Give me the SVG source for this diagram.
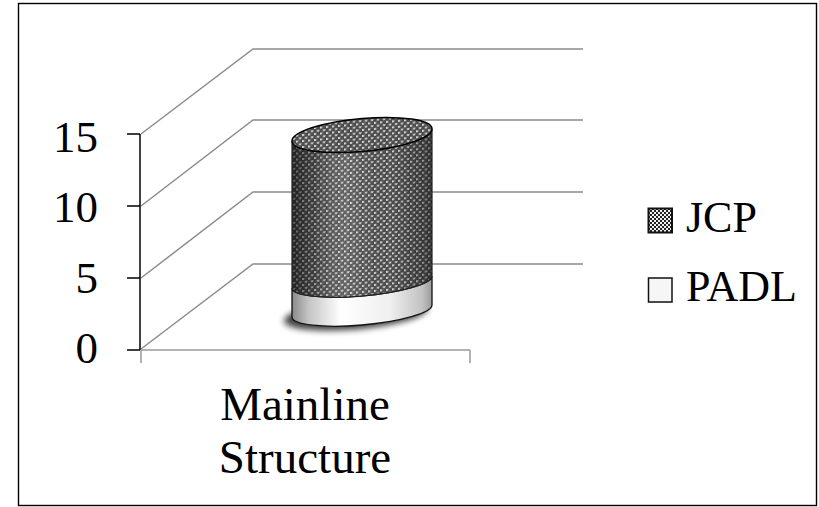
<svg xmlns="http://www.w3.org/2000/svg" width="819" height="507" viewBox="0 0 819 507">
<style>
  text { font-family: "Liberation Serif", "Times New Roman", serif; fill: #000; }
  .num { font-size: 45px; text-anchor: end; }
  .cat { font-size: 47px; text-anchor: middle; }
  .leg { font-size: 44px; }
  .grid { stroke: #8c8c8c; stroke-width: 1.5; fill: none; }
  .axis { stroke: #000; stroke-width: 1.5; fill: none; }
  .floor { stroke: #9a9a9a; stroke-width: 1.5; fill: none; }
</style>
<defs>
  <pattern id="jcpPat" width="6" height="6" patternUnits="userSpaceOnUse">
    <rect width="6" height="6" fill="#4e4e4e"/>
    <rect x="0" y="0" width="2" height="2" fill="#d8d8d8"/>
    <rect x="3" y="3" width="2" height="2" fill="#d8d8d8"/>
    <rect x="2" y="0" width="1" height="1" fill="#8a8a8a"/>
    <rect x="5" y="3" width="1" height="1" fill="#8a8a8a"/>
  </pattern>
  <pattern id="legPat" width="4" height="4" patternUnits="userSpaceOnUse">
    <rect width="4" height="4" fill="#f0f0f0"/>
    <rect x="0" y="0" width="2" height="2" fill="#222"/>
    <rect x="2" y="2" width="2" height="2" fill="#222"/>
  </pattern>
  <linearGradient id="shadeDark" x1="0" y1="0" x2="1" y2="0">
    <stop offset="0" stop-color="#000" stop-opacity="0.55"/>
    <stop offset="0.15" stop-color="#000" stop-opacity="0.25"/>
    <stop offset="0.4" stop-color="#fff" stop-opacity="0.12"/>
    <stop offset="0.7" stop-color="#000" stop-opacity="0"/>
    <stop offset="0.95" stop-color="#000" stop-opacity="0.3"/>
    <stop offset="1" stop-color="#000" stop-opacity="0.45"/>
  </linearGradient>
  <linearGradient id="padlGrad" x1="0" y1="0" x2="1" y2="0">
    <stop offset="0" stop-color="#8a8a8a"/>
    <stop offset="0.12" stop-color="#c4c4c4"/>
    <stop offset="0.35" stop-color="#ffffff"/>
    <stop offset="0.7" stop-color="#efefef"/>
    <stop offset="0.93" stop-color="#c2c2c2"/>
    <stop offset="1" stop-color="#9a9a9a"/>
  </linearGradient>
  <filter id="blur" x="-20%" y="-80%" width="140%" height="260%">
    <feGaussianBlur stdDeviation="3"/>
  </filter>
</defs>

<rect id="frame" x="18.5" y="3.5" width="798" height="502" fill="#fff" stroke="#000" stroke-width="1.4"/>

<g id="gridlines">
  <polyline class="grid" points="141,134 253,49 583,49"/>
  <polyline class="grid" points="141,206 253,120 583,120"/>
  <polyline class="grid" points="141,278 253,192 583,192"/>
  <polyline class="grid" points="141,349 253,264 583,264"/>
</g>

<g id="axes">
  <line class="floor" x1="141" y1="350" x2="470" y2="350"/>
  <line class="floor" x1="470" y1="350" x2="470" y2="363"/>
  <line class="floor" x1="141" y1="350" x2="141" y2="363"/>
  <line class="axis" x1="140" y1="134" x2="140" y2="350"/>
  <line class="axis" x1="127" y1="134" x2="140" y2="134"/>
  <line class="axis" x1="127" y1="206" x2="140" y2="206"/>
  <line class="axis" x1="127" y1="278" x2="140" y2="278"/>
  <line class="axis" x1="127" y1="350" x2="140" y2="350"/>
  <text class="num" x="98" y="152">15</text>
  <text class="num" x="98" y="222">10</text>
  <text class="num" x="98" y="293">5</text>
  <text class="num" x="98" y="363">0</text>
  <text class="cat" x="305" y="420">Mainline</text>
  <text class="cat" x="305" y="473">Structure</text>
</g>

<g id="cylinder" transform="translate(362,135) matrix(1,-0.0857,0,1,0,0)">
  <ellipse cx="-6" cy="179" rx="72" ry="15" fill="#000" opacity="0.75" filter="url(#blur)"/>
  <path d="M -70 147 A 70 14 0 0 0 70 147 L 70 176 A 70 14 0 0 1 -70 176 Z" fill="url(#padlGrad)" stroke="#111" stroke-width="1.3"/>
  <path d="M -70 0 L -70 147 A 70 14 0 0 0 70 147 L 70 0 A 70 16.5 0 0 1 -70 0 Z" fill="url(#jcpPat)"/>
  <path d="M -70 0 L -70 147 A 70 14 0 0 0 70 147 L 70 0 A 70 16.5 0 0 1 -70 0 Z" fill="url(#shadeDark)" stroke="#222" stroke-width="1.2"/>
  <ellipse cx="0" cy="0" rx="70" ry="16.5" fill="url(#jcpPat)" stroke="#000" stroke-width="1.5"/>
</g>

<g id="legend-jcp">
  <rect x="648.5" y="208.5" width="23.5" height="24" fill="url(#legPat)" stroke="#111" stroke-width="2"/>
  <text class="leg" x="686" y="232">JCP</text>
</g>
<g id="legend-padl">
  <rect x="648.5" y="278" width="23.5" height="24" fill="#f6f6f6" stroke="#111" stroke-width="1.5"/>
  <text class="leg" x="686" y="301">PADL</text>
</g>
</svg>
